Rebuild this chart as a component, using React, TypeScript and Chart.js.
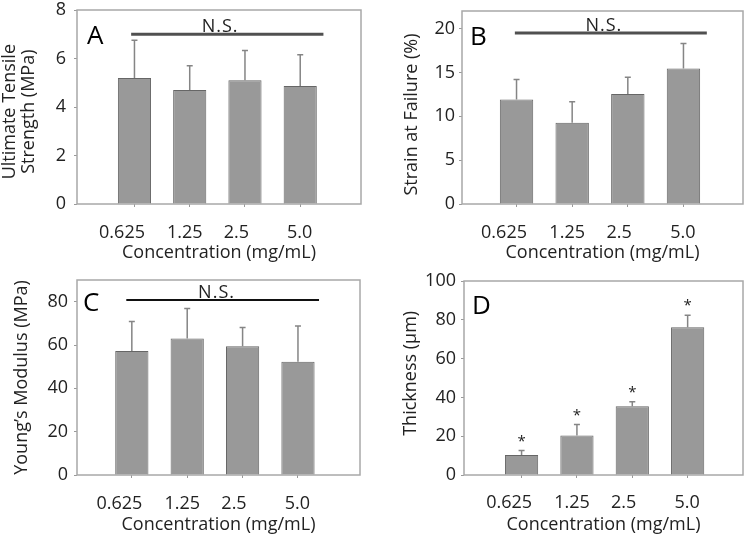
import React, { useEffect, useRef } from "react";
import { Chart, registerables } from "chart.js";

Chart.register(...registerables);

// ---------------- data ----------------
const categories = ["0.625", "1.25", "2.5", "5.0"];
const xTitle = "Concentration (mg/mL)";

const utsMean = [5.2, 4.7, 5.1, 4.87];
const utsErr = [1.55, 1.0, 1.23, 1.28];
const utsTicks = [0, 2, 4, 6, 8];

const strainMean = [11.9, 9.25, 12.55, 15.45];
const strainErr = [2.3, 2.4, 1.9, 2.85];
const strainTicks = [0, 5, 10, 15, 20];

const modulusMean = [57.2, 63.0, 59.4, 52.3];
const modulusErr = [13.6, 13.9, 8.7, 16.5];
const modulusTicks = [0, 20, 40, 60, 80];

const thicknessMean = [10.3, 20.4, 35.5, 76.2];
const thicknessErr = [2.3, 5.6, 2.3, 6.2];
const thicknessTicks = [0, 20, 40, 60, 80, 100];
const thicknessSig = ["*", "*", "*", "*"];

// ---------------- styles ----------------
const FONT = '"Open Sans", "DejaVu Sans", sans-serif';
const TEXT = "#222222";
const BORDER = "#a8a8a8";
const TICK = "#999999";
const BAR_FILL = "#999999";
const BAR_EDGE = "#666666";
const ERR = "#858585";
// horizontal offset of each category label from its bar (in category units)
const labelShift = [-0.225, -0.09, -0.155, -0.01];

type NS = { y: number; from: number; to: number; textX: number; color: string; width: number };

type Panel = {
  key: string;
  letter: string;
  left: number;
  top: number;
  w: number;
  h: number;
  mean: number[];
  err: number[];
  sig?: string[];
  yMax: number;
  yTicks: number[];
  yTitle: string[];
  yTitleShift: number; // + moves title down (in spaces), - moves up
  xMin: number;
  xMax: number;
  padTop: number;
  padRight: number;
  yW: number;
  yTickPad: number;
  yTitlePad: number;
  xLabelPad: number;
  xTitlePad: number;
  letterDx: number;
  letterBase: number;
  ns?: NS;
};

const panels: Panel[] = [
  {
    key: "A", letter: "A", left: 0, top: 0, w: 375, h: 272,
    mean: utsMean, err: utsErr, yMax: 8, yTicks: utsTicks,
    yTitle: ["Ultimate Tensile", "Strength (MPa)"], yTitleShift: 2,
    xMin: -0.04, xMax: 5.1, padTop: 10, padRight: 14, yW: 77,
    yTickPad: 8, yTitlePad: 0, xLabelPad: 15, xTitlePad: 8,
    letterDx: 10, letterBase: 34,
    ns: { y: 7.0, from: 0.94, to: 4.42, textX: 2.55, color: "#505050", width: 3 },
  },
  {
    key: "B", letter: "B", left: 375, top: 0, w: 375, h: 272,
    mean: strainMean, err: strainErr, yMax: 22, yTicks: strainTicks,
    yTitle: ["Strain at Failure (%)"], yTitleShift: 3,
    xMin: 0.02, xMax: 5.07, padTop: 11, padRight: 7, yW: 87,
    yTickPad: 4, yTitlePad: 27, xLabelPad: 15, xTitlePad: 8,
    letterDx: 8, letterBase: 34,
    ns: { y: 19.5, from: 0.97, to: 4.42, textX: 2.57, color: "#505050", width: 3 },
  },
  {
    key: "C", letter: "C", left: 0, top: 272, w: 375, h: 271,
    mean: modulusMean, err: modulusErr, yMax: 90, yTicks: modulusTicks,
    yTitle: ["Young\u2019s Modulus (MPa)"], yTitleShift: 0,
    xMin: 0.01, xMax: 5.12, padTop: 8, padRight: 15, yW: 77,
    yTickPad: 6, yTitlePad: 12, xLabelPad: 15, xTitlePad: 7,
    letterDx: 6, letterBase: 31,
    ns: { y: 80.8, from: 0.9, to: 4.38, textX: 2.53, color: "#111111", width: 2 },
  },
  {
    key: "D", letter: "D", left: 375, top: 272, w: 375, h: 271,
    mean: thicknessMean, err: thicknessErr, sig: thicknessSig, yMax: 100, yTicks: thicknessTicks,
    yTitle: ["Thickness (\u00b5m)"], yTitleShift: -2,
    xMin: -0.04, xMax: 5.0, padTop: 9, padRight: 7, yW: 89,
    yTickPad: 5, yTitlePad: 26, xLabelPad: 14, xTitlePad: 7,
    letterDx: 8, letterBase: 33,
  },
];

const X_TICK_LEN = 3;
const X_AXIS_H = 68;

// shift a rotated (bottom-to-top) centred title by padding it with spaces
function shiftTitle(lines: string[], n: number): string | string[] {
  const pad = " ".repeat(Math.abs(n));
  const out = lines.map((l) => (n > 0 ? l + pad : n < 0 ? pad + l : l));
  return out.length === 1 ? out[0] : out;
}

function makeDecor(p: Panel) {
  return {
    id: "decor" + p.key,
    beforeDatasetsDraw(chart: any) {
      const { ctx, chartArea: a } = chart;
      ctx.save();
      ctx.strokeStyle = BORDER;
      ctx.lineWidth = 1.5;
      ctx.strokeRect(a.left, a.top, a.right - a.left, a.bottom - a.top);
      ctx.restore();
    },
    afterDatasetsDraw(chart: any) {
      const { ctx, chartArea: a, scales } = chart;
      const xs = scales.x;
      const ys = scales.y;
      const meta = chart.getDatasetMeta(0);
      ctx.save();
      // error bars (upper only)
      ctx.strokeStyle = ERR;
      ctx.lineWidth = 1.5;
      meta.data.forEach((bar: any, i: number) => {
        const x = bar.x;
        const y0 = ys.getPixelForValue(p.mean[i]);
        const y1 = ys.getPixelForValue(p.mean[i] + p.err[i]);
        ctx.beginPath();
        ctx.moveTo(x, y0);
        ctx.lineTo(x, y1);
        ctx.moveTo(x - 3, y1);
        ctx.lineTo(x + 3, y1);
        ctx.stroke();
        if (p.sig && p.sig[i]) {
          ctx.fillStyle = TEXT;
          ctx.font = `15px ${FONT}`;
          ctx.textAlign = "center";
          ctx.textBaseline = "middle";
          ctx.fillText(p.sig[i], x, y1 - 9);
        }
      });
      // N.S. bracket
      if (p.ns) {
        const ns = p.ns;
        const y = ys.getPixelForValue(ns.y);
        ctx.strokeStyle = ns.color;
        ctx.lineWidth = ns.width;
        ctx.beginPath();
        ctx.moveTo(xs.getPixelForValue(ns.from), y);
        ctx.lineTo(xs.getPixelForValue(ns.to), y);
        ctx.stroke();
        ctx.fillStyle = TEXT;
        ctx.font = `18px ${FONT}`;
        (ctx as any).letterSpacing = "1px";
        ctx.textAlign = "center";
        ctx.textBaseline = "alphabetic";
        ctx.fillText("N.S.", xs.getPixelForValue(ns.textX), y - 2);
        (ctx as any).letterSpacing = "0px";
      }
      // panel letter
      ctx.fillStyle = "#000000";
      ctx.font = `26px ${FONT}`;
      ctx.textAlign = "left";
      ctx.textBaseline = "alphabetic";
      ctx.fillText(p.letter, a.left + p.letterDx, a.top + p.letterBase);
      ctx.restore();
    },
  };
}

function PanelChart({ p }: { p: Panel }) {
  const ref = useRef<HTMLCanvasElement | null>(null);
  useEffect(() => {
    if (!ref.current) return;
    const chart = new Chart(ref.current, {
      type: "bar",
      data: {
        datasets: [
          {
            data: p.mean.map((v, i) => ({ x: i + 1, y: v })),
            backgroundColor: BAR_FILL,
            borderColor: BAR_EDGE,
            borderWidth: 1,
            categoryPercentage: 1,
            barPercentage: 0.6,
          },
        ],
      },
      options: {
        responsive: false,
        maintainAspectRatio: false,
        animation: false,
        devicePixelRatio: 1,
        layout: { padding: { top: p.padTop, right: p.padRight, left: 0, bottom: 0 } },
        plugins: { legend: { display: false }, tooltip: { enabled: false } },
        scales: {
          x: {
            type: "linear",
            position: "bottom",
            offset: false,
            weight: 0,
            min: p.xMin,
            max: p.xMax,
            afterBuildTicks: (s: any) => {
              s.ticks = categories.map((_, i) => ({ value: i + 1 }));
            },
            afterFit: (s: any) => {
              s.height = X_TICK_LEN;
              s.paddingLeft = 0;
              s.paddingRight = 0;
            },
            grid: { display: true, offset: false, drawOnChartArea: false, drawTicks: true, tickLength: X_TICK_LEN, color: TICK },
            border: { display: false },
            ticks: { display: false },
          },
          xl: {
            type: "linear",
            position: "bottom",
            offset: false,
            weight: 1,
            min: p.xMin,
            max: p.xMax,
            afterBuildTicks: (s: any) => {
              s.ticks = categories.map((_, i) => ({ value: i + 1 + labelShift[i] }));
            },
            afterFit: (s: any) => {
              s.height = X_AXIS_H - X_TICK_LEN;
              s.paddingLeft = 0;
              s.paddingRight = 0;
            },
            grid: { display: false, offset: false, drawTicks: false },
            border: { display: false },
            ticks: {
              autoSkip: false,
              maxRotation: 0,
              padding: p.xLabelPad,
              color: TEXT,
              font: { family: FONT, size: 18, lineHeight: 1.2 },
              callback: (_v: any, i: number) => categories[i],
            },
            title: {
              display: true,
              text: xTitle,
              color: TEXT,
              font: { family: FONT, size: 18, lineHeight: 1.2 },
              padding: { top: 0, bottom: p.xTitlePad },
            },
          },
          y: {
            type: "linear",
            position: "left",
            min: 0,
            max: p.yMax,
            afterBuildTicks: (s: any) => {
              s.ticks = p.yTicks.map((v) => ({ value: v }));
            },
            afterFit: (s: any) => {
              s.width = p.yW;
              s.paddingTop = 0;
              s.paddingBottom = 0;
            },
            grid: { display: true, drawOnChartArea: false, drawTicks: true, tickLength: 3, color: TICK },
            border: { display: false },
            ticks: {
              padding: p.yTickPad,
              color: TEXT,
              font: { family: FONT, size: 18, lineHeight: 0.8 },
            },
            title: {
              display: true,
              text: shiftTitle(p.yTitle, p.yTitleShift),
              color: TEXT,
              font: { family: FONT, size: 18, lineHeight: 1.08 },
              padding: { top: p.yTitlePad, bottom: 0 },
            },
          },
        },
      } as any,
      plugins: [makeDecor(p)],
    });
    return () => chart.destroy();
  }, [p]);

  return (
    <div style={{ position: "absolute", left: p.left, top: p.top, width: p.w, height: p.h }}>
      <canvas ref={ref} width={p.w} height={p.h} style={{ width: p.w, height: p.h, display: "block" }} />
    </div>
  );
}

export default function App() {
  return (
    <div style={{ position: "absolute", left: 0, top: 0, width: 750, height: 543, background: "#ffffff", overflow: "hidden" }}>
      {panels.map((p) => (
        <PanelChart key={p.key} p={p} />
      ))}
    </div>
  );
}
